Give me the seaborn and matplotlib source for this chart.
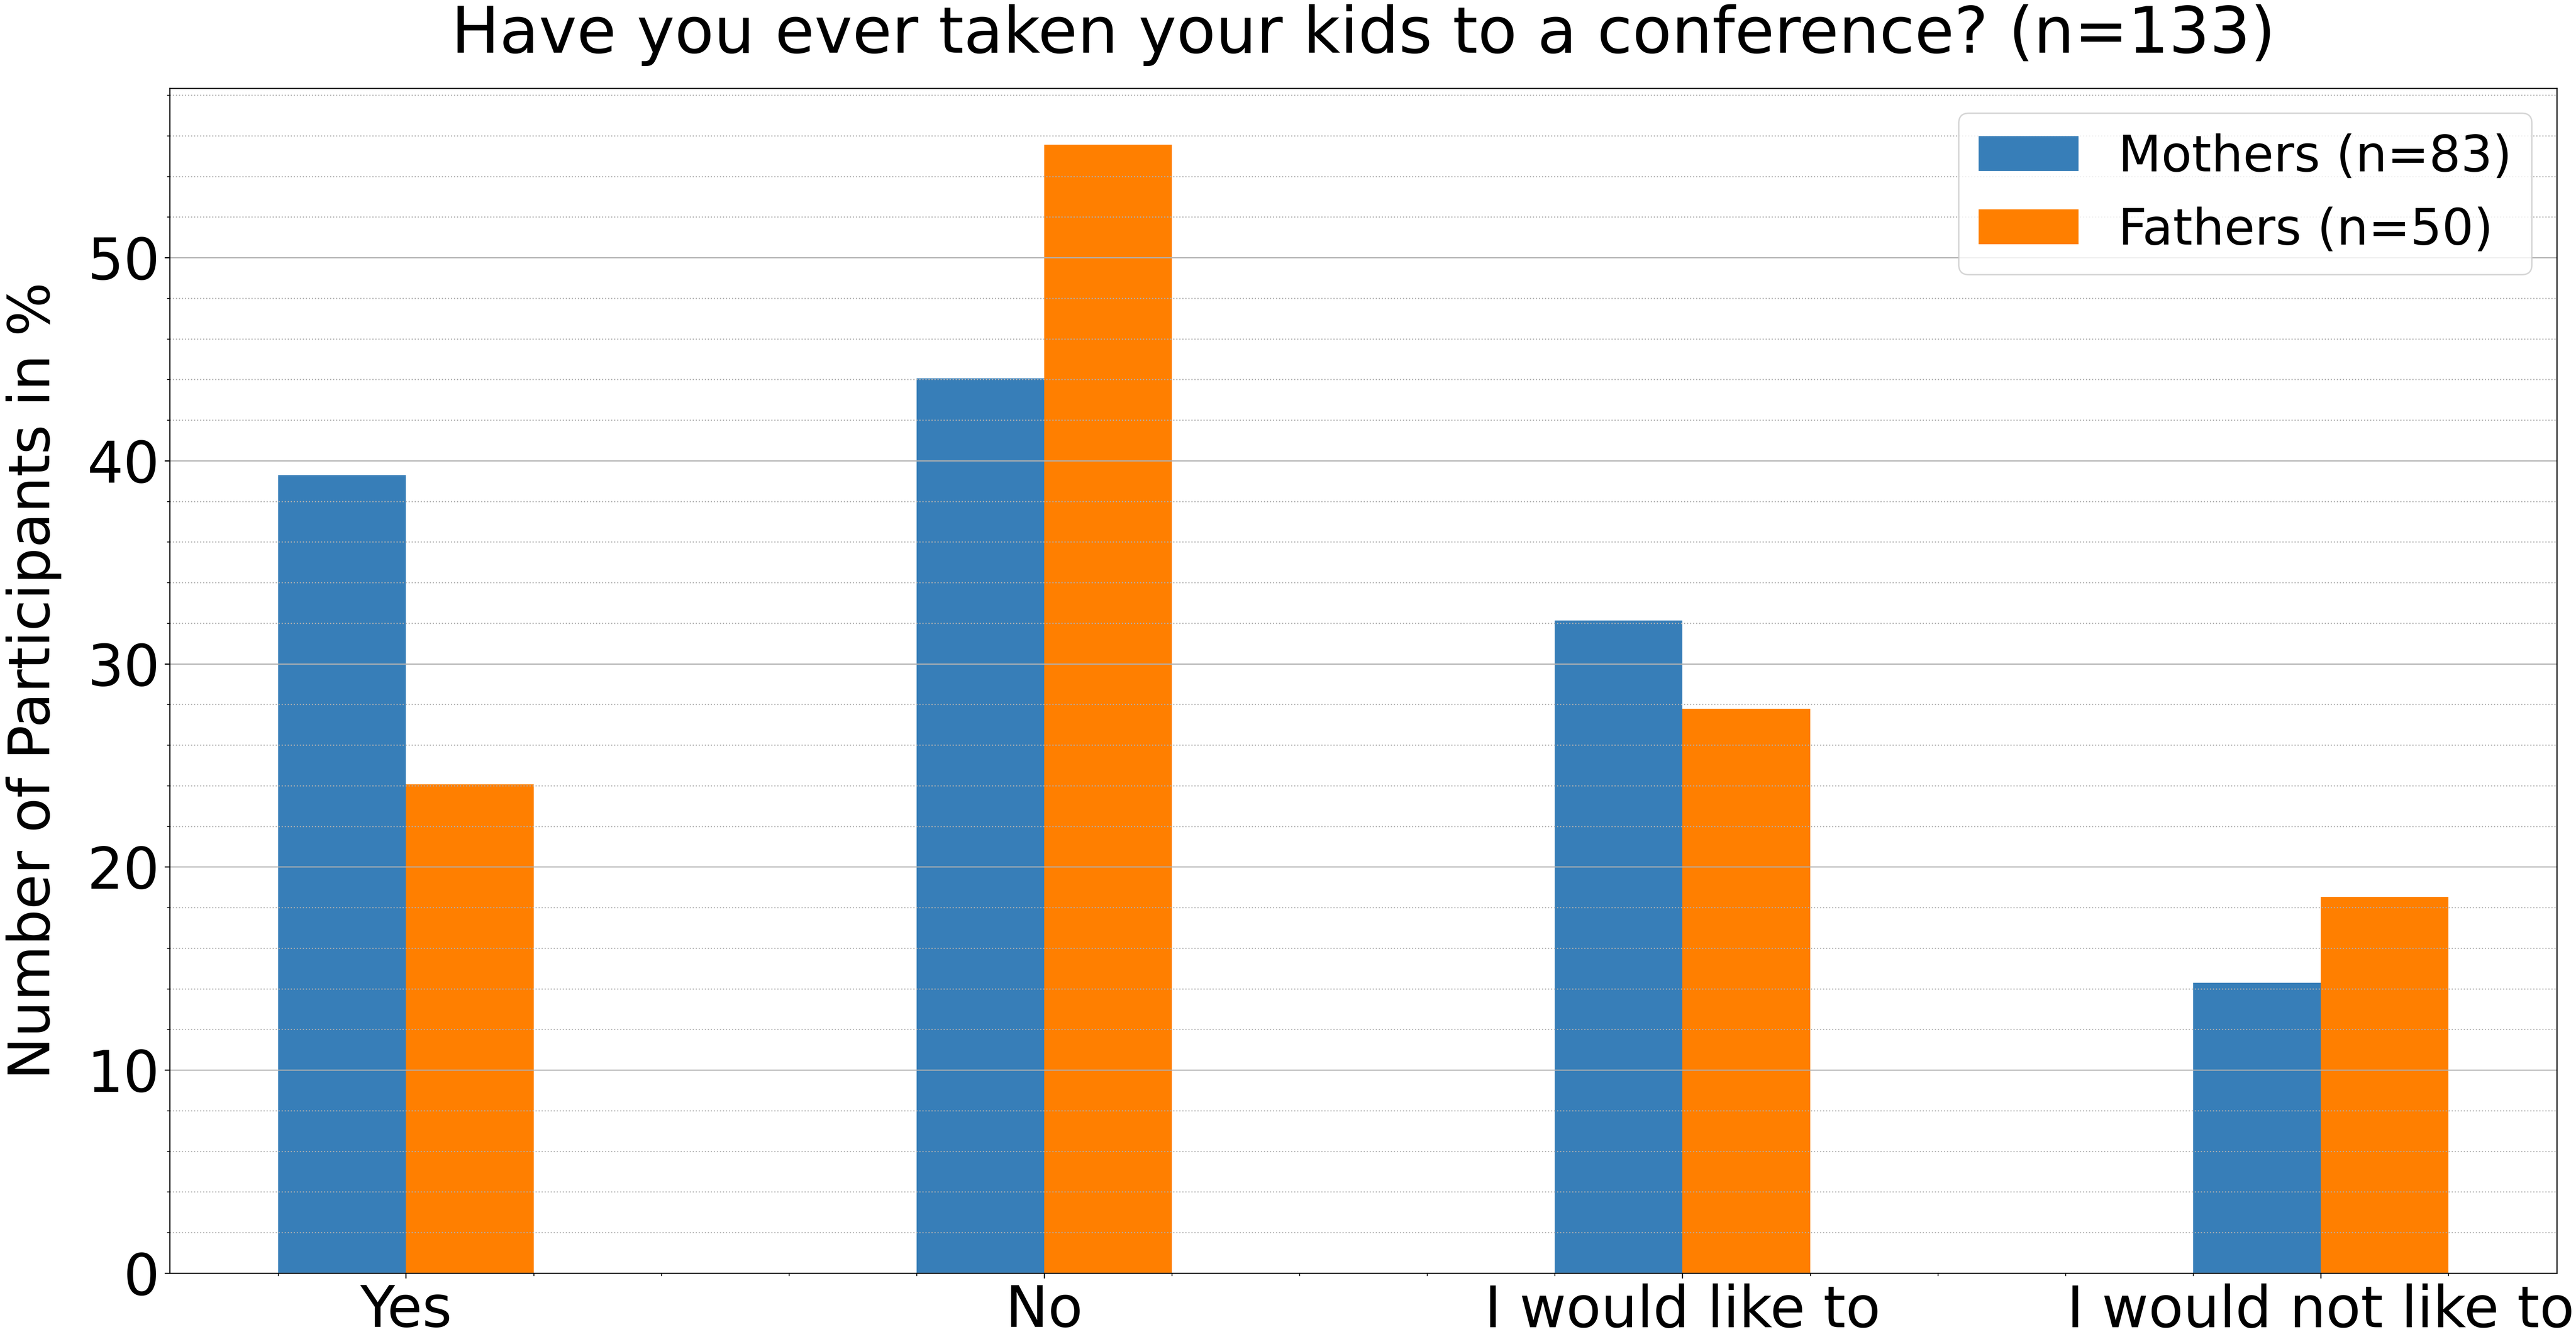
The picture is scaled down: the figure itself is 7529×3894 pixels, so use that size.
import matplotlib
matplotlib.use("Agg")
import matplotlib.pyplot as plt
import pandas as pd
import seaborn as sns

ANSWERS = ["Yes", "No", "I would like to", "I would not like to"]
MOTHERS = [39.29, 44.05, 32.14, 14.29]
FATHERS = [24.07, 55.56, 27.78, 18.52]
GROUPS = ["Mothers (n=83)", "Fathers (n=50)"]
COLORS = ["#377eb8", "#ff7f00"]

df = pd.DataFrame({
    "answer": ANSWERS * 2,
    "group": [GROUPS[0]] * len(ANSWERS) + [GROUPS[1]] * len(ANSWERS),
    "percent": MOTHERS + FATHERS,
})

fig, ax = plt.subplots(figsize=(7529 / 300, 3894 / 300), dpi=300)
sns.barplot(data=df, x="answer", y="percent", hue="group", palette=COLORS,
            width=0.4, saturation=1, ax=ax)

# let matplotlib pick the x range from the bars, like a plain plt.bar
ax.autoscale(enable=True, axis="x")
ax.minorticks_on()
ax.grid(axis="y", which="major", color="#b0b0b0", linewidth=0.8)
ax.grid(axis="y", which="minor", color="#b0b0b0", linestyle=":", linewidth=0.8)
ax.grid(axis="x", which="both", visible=False)

ax.set_title("Have you ever taken your kids to a conference? (n=133)", fontsize=45, pad=25)
ax.set_ylabel("Number of Participants in %", fontsize=40, labelpad=18)
ax.set_xlabel("")
ax.tick_params(axis="both", which="major", labelsize=40)
ax.legend(fontsize=35, loc="upper right")

fig.subplots_adjust(left=0.0659, right=0.9926, top=0.9337, bottom=0.0442)
fig.savefig("out.png", dpi=300)
